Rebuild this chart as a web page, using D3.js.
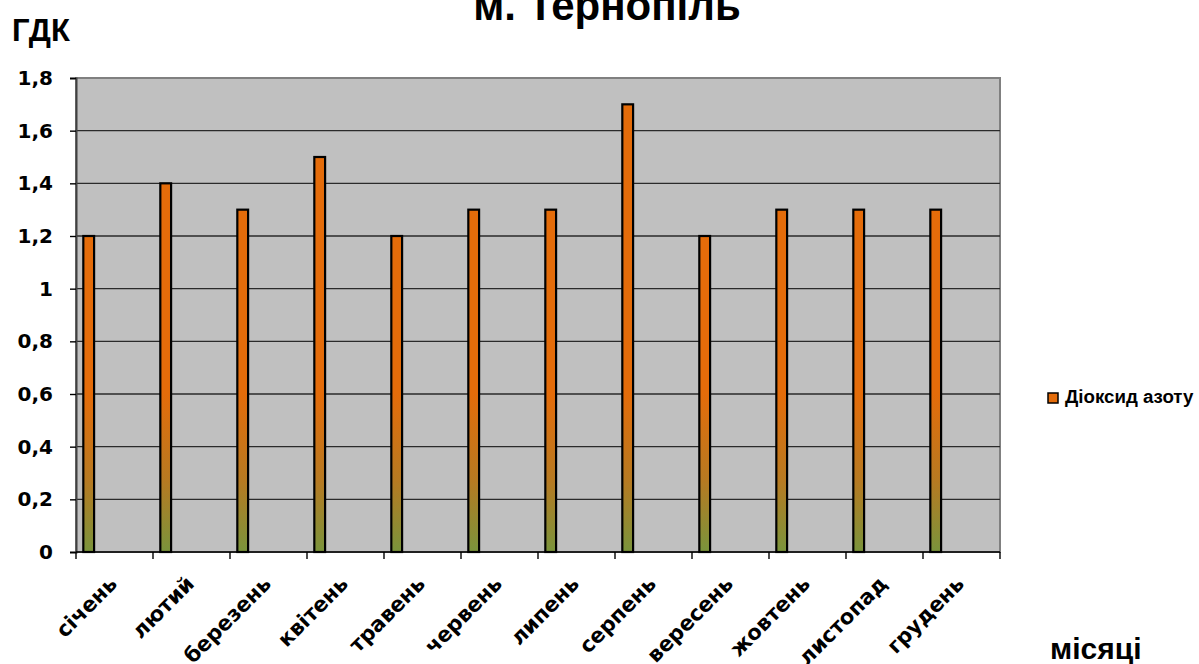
<!DOCTYPE html>
<html>
<head>
<meta charset="utf-8">
<script src="https://cdn.jsdelivr.net/npm/d3@7"></script>
<style>
  html, body { margin: 0; padding: 0; background: #fff; }
  svg { display: block; }
  text { font-family: "Liberation Sans", Arial, sans-serif; font-weight: bold; fill: #000; }
</style>
</head>
<body>
<svg id="chart" width="1199" height="664"></svg>
<script>
// Щомісячні концентрації діоксиду азоту (у частках ГДК)
const months = ["січень", "лютий", "березень", "квітень", "травень", "червень",
                "липень", "серпень", "вересень", "жовтень", "листопад", "грудень"];
const no2Values = [1.2, 1.4, 1.3, 1.5, 1.2, 1.3, 1.3, 1.7, 1.2, 1.3, 1.3, 1.3];
const yTicks = [0, 0.2, 0.4, 0.6, 0.8, 1, 1.2, 1.4, 1.6, 1.8];
const seriesName = "Діоксид азоту";
const titleText = "м. Тернопіль";
const yAxisTitle = "ГДК";
const xAxisTitle = "місяці";

const svg = d3.select("#chart");
const plot = { left: 76, right: 1000, top: 78, bottom: 552 };
const wideFont = "'DejaVu Sans', Verdana, sans-serif";

const x = d3.scaleBand().domain(months).range([plot.left, plot.right]).paddingInner(0).paddingOuter(0);
const y = d3.scaleLinear().domain([0, 1.8]).range([plot.bottom, plot.top]);

// bar gradient: orange above 0.6, fading into olive toward zero
const defs = svg.append("defs");
const grad = defs.append("linearGradient")
  .attr("id", "barFill")
  .attr("gradientUnits", "userSpaceOnUse")
  .attr("x1", 0).attr("x2", 0)
  .attr("y1", y(0.6)).attr("y2", y(0));
grad.append("stop").attr("offset", "0%").attr("stop-color", "#e46c0a");
grad.append("stop").attr("offset", "55%").attr("stop-color", "#b67a22");
grad.append("stop").attr("offset", "100%").attr("stop-color", "#7a943c");

// plot area background
svg.append("rect")
  .attr("x", plot.left).attr("y", plot.top)
  .attr("width", plot.right - plot.left).attr("height", plot.bottom - plot.top)
  .attr("fill", "#c0c0c0")
  .attr("stroke", "#808080").attr("stroke-width", 2);

// horizontal gridlines
svg.append("g")
  .selectAll("line")
  .data(yTicks.filter(d => d > 0 && d < 1.8))
  .join("line")
  .attr("x1", plot.left).attr("x2", plot.right)
  .attr("y1", d => y(d)).attr("y2", d => y(d))
  .attr("stroke", "#2a2a2a").attr("stroke-width", 1.4);

// y axis
const yAxis = d3.axisLeft(y)
  .tickValues(yTicks)
  .tickSize(6)
  .tickPadding(17)
  .tickFormat(d => d3.format("~g")(d).replace(".", ","));
const gy = svg.append("g").attr("transform", `translate(${plot.left},0)`).call(yAxis);
gy.select(".domain").attr("stroke", "#404040").attr("stroke-width", 2);
gy.selectAll(".tick line").attr("stroke", "#000").attr("stroke-width", 1.4);
gy.selectAll(".tick text")
  .style("font-size", "20px")
  .style("font-family", wideFont)
  .style("font-weight", "bold")
  .attr("fill", "#000");

// x axis with ticks at category boundaries
const gx = svg.append("g").attr("transform", `translate(0,${plot.bottom})`);
gx.append("line")
  .attr("x1", plot.left).attr("x2", plot.right)
  .attr("y1", 0).attr("y2", 0)
  .attr("stroke", "#000").attr("stroke-width", 1.4);
const boundaries = months.map(m => x(m)).concat([plot.right]);
gx.selectAll("line.tick")
  .data(boundaries)
  .join("line")
  .attr("class", "tick")
  .attr("x1", d => d).attr("x2", d => d)
  .attr("y1", 0).attr("y2", 7)
  .attr("stroke", "#000").attr("stroke-width", 1.4);
gx.selectAll("text.month")
  .data(months)
  .join("text")
  .attr("class", "month")
  .attr("text-anchor", "end")
  .attr("transform", d => `translate(${x(d) + x.bandwidth() / 2 + 4},${33}) rotate(-45)`)
  .style("font-size", "21px")
  .style("font-family", wideFont)
  .text(d => d);

// bars sit in the left part of each month band
const barOffset = x.bandwidth() * 0.095;
const barWidth = x.bandwidth() * 0.14;
svg.append("g")
  .selectAll("rect")
  .data(no2Values)
  .join("rect")
  .attr("x", (d, i) => x(months[i]) + barOffset)
  .attr("y", d => y(d))
  .attr("width", barWidth)
  .attr("height", d => y(0) - y(d))
  .attr("fill", "url(#barFill)")
  .attr("stroke", "#000").attr("stroke-width", 2.2);

// titles
svg.append("text")
  .attr("x", 607).attr("y", 20)
  .attr("text-anchor", "middle")
  .style("font-size", "42px")
  .text(titleText);
svg.append("text")
  .attr("x", 12).attr("y", 41)
  .style("font-size", "31px")
  .text(yAxisTitle);
svg.append("text")
  .attr("x", 1050).attr("y", 659)
  .style("font-size", "30px")
  .text(xAxisTitle);

// legend
const legend = svg.append("g").attr("transform", "translate(1048,393)");
legend.append("rect")
  .attr("width", 10).attr("height", 10)
  .attr("fill", "#e46c0a")
  .attr("stroke", "#000").attr("stroke-width", 1.5);
legend.append("text")
  .attr("x", 17).attr("y", 10)
  .style("font-size", "18.7px")
  .text(seriesName);
</script>
</body>
</html>
